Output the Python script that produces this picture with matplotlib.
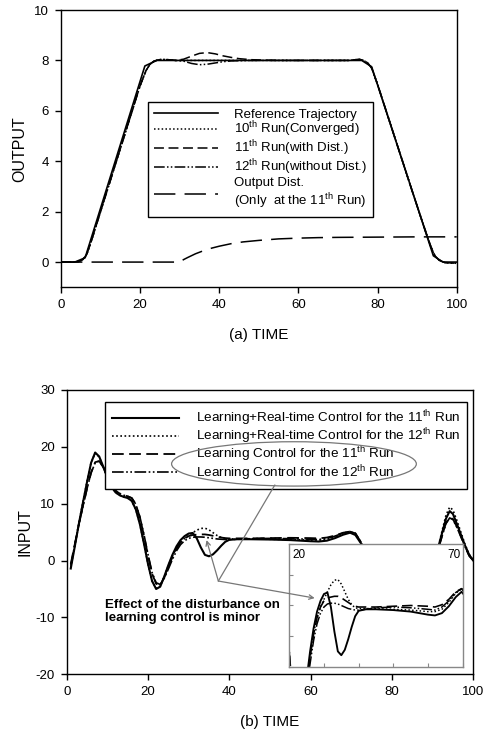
import numpy as np
import matplotlib
matplotlib.use('Agg')
from matplotlib import pyplot as plt
from matplotlib.patches import Ellipse, ConnectionPatch

plt.rcParams['font.family'] = 'Liberation Sans'
plt.rcParams['mathtext.fontset'] = 'custom'
plt.rcParams['mathtext.rm'] = 'Liberation Sans'
plt.rcParams['mathtext.it'] = 'Liberation Sans:italic'
plt.rcParams['axes.unicode_minus'] = False

# ---- (a) output data ----
ref_t = [0, 3.5, 6.1, 21.2, 24.2, 76, 78.5, 94.1, 96.5, 100]
ref_y = [0, 0, 0.17, 7.78, 8.0, 8.0, 7.75, 0.25, 0, 0]

t_out = [0, 3, 4.5, 5.5, 6.5, 7.5, 9, 12, 15, 18,
         20, 21.5, 22.5, 23.5, 24.5, 25.5, 27, 29, 31, 33,
         35, 37, 39, 41, 43, 45, 48, 52, 56, 60,
         65, 70, 73, 74.5, 75.5, 76.5, 77.5, 78.5, 80, 83,
         86, 89, 91, 92.5, 93.5, 94.5, 95.5, 97, 100]
y_run10 = [0, 0, 0.02, 0.1, 0.3, 0.75, 1.5, 3.0, 4.5, 6.0,
           7.0, 7.6, 7.85, 7.97, 8.02, 8.04, 8.03, 8.0, 8.0, 8.0,
           8.0, 8.0, 8.0, 8.0, 8.0, 8.0, 8.0, 8.0, 8.0, 8.0,
           8.0, 8.0, 8.0, 8.03, 8.04, 8.0, 7.9, 7.7, 7.05, 5.6,
           4.15, 2.7, 1.75, 1.05, 0.6, 0.25, 0.08, -0.02, -0.05]
y_run11 = [0, 0, 0.02, 0.1, 0.3, 0.75, 1.5, 3.0, 4.5, 6.0,
           7.0, 7.6, 7.85, 7.97, 8.02, 8.04, 8.03, 8.0, 8.05, 8.17,
           8.28, 8.31, 8.26, 8.18, 8.12, 8.07, 8.03, 8.01, 8.0, 8.0,
           8.0, 8.0, 8.0, 8.03, 8.04, 8.0, 7.9, 7.7, 7.05, 5.6,
           4.15, 2.7, 1.75, 1.05, 0.6, 0.25, 0.08, -0.02, -0.05]
y_run12 = [0, 0, 0.02, 0.1, 0.3, 0.75, 1.5, 3.0, 4.5, 6.0,
           7.0, 7.6, 7.85, 7.97, 8.02, 8.04, 8.03, 8.0, 7.97, 7.88,
           7.83, 7.85, 7.9, 7.95, 7.98, 7.99, 8.0, 8.0, 8.0, 8.0,
           8.0, 8.0, 8.0, 8.03, 8.04, 8.0, 7.9, 7.7, 7.05, 5.6,
           4.15, 2.7, 1.75, 1.05, 0.6, 0.25, 0.08, -0.02, -0.05]

dist_t = [0, 30, 31, 32, 34, 36, 38, 40, 43, 46, 50, 55, 60, 65, 70, 80, 90, 100]
dist_y = [0, 0, 0.1, 0.18, 0.33, 0.45, 0.55, 0.63, 0.73, 0.8, 0.86, 0.92, 0.95,
          0.97, 0.98, 0.99, 1.0, 1.0]

# ---- (b) input data ----
t_in = [1, 2, 3, 4, 5, 6, 7, 8, 9, 10,
        11, 12, 13, 14, 15, 16, 17, 18, 19, 20,
        21, 22, 23, 24, 25, 26, 27, 28, 29, 30,
        31, 32, 33, 34, 35, 36, 37, 38, 39, 40,
        42, 45, 50, 55, 60, 62, 64, 66, 68, 69.7,
        71, 72.5, 74, 76, 78, 80, 82, 84, 86, 88,
        90, 91.6, 92.5, 93.3, 94.2, 95, 96, 97, 98, 99,
        100]
u_lr11 = [-1.4, 2.5, 6.5, 10.2, 13.8, 17.2, 19.0, 18.3, 16.5, 14.6,
          13.0, 12.0, 11.5, 11.2, 11.0, 10.5, 9.0, 6.4, 3.0, -0.6,
          -3.6, -5.0, -4.6, -2.8, -0.8, 1.0, 2.5, 3.6, 4.3, 4.75,
          4.85, 3.9, 2.3, 1.0, 0.75, 1.1, 1.8, 2.6, 3.3, 3.65,
          3.75, 3.75, 3.7, 3.6, 3.4, 3.35, 3.5, 3.95, 4.55, 4.9,
          4.5, 2.9, -1.5, -8.0, -14.0, -17.0, -15.5, -11.5, -7.5, -4.0,
          -0.5, 2.9, 5.3, 7.4, 8.7, 8.2, 6.4, 4.5, 2.6, 1.0,
          0.0]
u_lr12 = [-1.2, 2.7, 6.6, 10.3, 13.9, 17.2, 18.9, 18.2, 16.5, 14.6,
          13.0, 12.0, 11.5, 11.2, 11.0, 10.5, 9.0, 6.4, 3.0, -0.6,
          -3.6, -4.9, -4.5, -2.8, -0.9, 0.8, 2.2, 3.2, 3.9, 4.4,
          4.9, 5.35, 5.65, 5.7, 5.4, 4.9, 4.4, 4.05, 3.85, 3.8,
          3.8, 3.8, 3.75, 3.7, 3.6, 3.6, 3.75, 4.2, 4.8, 5.1,
          4.7, 3.0, -1.2, -7.8, -13.8, -16.8, -15.4, -11.4, -7.4, -3.8,
          -0.2, 3.0, 5.7, 8.0, 9.4, 8.9, 7.0, 4.9, 2.8, 1.1,
          0.1]
u_l11 = [-0.6, 2.9, 6.4, 9.6, 12.7, 15.5, 17.3, 17.5, 16.4, 14.8,
         13.3, 12.3, 11.8, 11.5, 11.3, 11.0, 9.9, 7.6, 4.4, 0.9,
         -2.3, -4.1, -4.3, -3.0, -1.2, 0.6, 2.1, 3.2, 3.9, 4.3,
         4.5, 4.55, 4.6, 4.6, 4.5, 4.35, 4.2, 4.05, 3.95, 3.9,
         3.9, 3.9, 3.95, 4.0, 3.95, 3.9, 4.05, 4.4, 4.9, 5.1,
         4.8, 3.1, -1.0, -7.5, -13.0, -16.0, -14.5, -11.0, -7.5, -4.2,
         -1.0, 2.6, 4.8, 6.6, 7.6, 7.3, 5.9, 4.2, 2.5, 0.9,
         0.0]
u_l12 = [-0.9, 2.8, 6.3, 9.5, 12.6, 15.4, 17.2, 17.5, 16.4, 14.8,
         13.3, 12.3, 11.8, 11.5, 11.3, 11.0, 9.9, 7.7, 4.6, 1.1,
         -2.1, -3.9, -4.2, -3.1, -1.5, 0.2, 1.7, 2.8, 3.5, 3.9,
         4.1, 4.15, 4.15, 4.1, 4.0, 3.9, 3.8, 3.75, 3.7, 3.7,
         3.75, 3.85, 3.9, 3.85, 3.75, 3.7, 3.9, 4.3, 4.85, 5.1,
         4.8, 3.1, -1.0, -7.5, -13.0, -16.0, -14.5, -11.0, -7.5, -4.2,
         -1.0, 2.5, 4.7, 6.5, 7.5, 7.2, 5.8, 4.1, 2.4, 0.8,
         0.0]

labels_a = ['Reference Trajectory',
            r'10$^{\rm th}$ Run(Converged)',
            r'11$^{\rm th}$ Run(with Dist.)',
            r'12$^{\rm th}$ Run(without Dist.)',
            'Output Dist.\n' + r'(Only  at the 11$^{\rm th}$ Run)']
labels_b = [r'Learning+Real-time Control for the 11$^{\rm th}$ Run',
            r'Learning+Real-time Control for the 12$^{\rm th}$ Run',
            r'Learning Control for the 11$^{\rm th}$ Run',
            r'Learning Control for the 12$^{\rm th}$ Run']
note_text = 'Effect of the disturbance on\nlearning control is minor'

LS_DOT = (0, (1, 1.5))
LS_DASH = (0, (6.5, 3))
LS_DDOT = (0, (7, 1.5, 1, 1.5, 1, 1.5))
LS_LONG = (0, (14, 6))


def style_axes(ax):
    ax.tick_params(direction='out', length=4.5, width=1, labelsize=9.5, pad=4,
                   top=False, right=False)
    for s in ax.spines.values():
        s.set_linewidth(1.0)


fig = plt.figure(figsize=(4.84, 7.31), dpi=100)

# ---------------- (a) ----------------
ax1 = fig.add_axes([0.126, 0.607, 0.8176, 0.3793])
ax1.plot(ref_t, ref_y, color='k', lw=1.2, label=labels_a[0])
ax1.plot(t_out, y_run10, color='k', lw=1.1, ls=LS_DOT, label=labels_a[1])
ax1.plot(t_out, y_run11, color='k', lw=1.1, ls=LS_DASH, label=labels_a[2])
ax1.plot(t_out, y_run12, color='k', lw=1.1, ls=LS_DDOT, label=labels_a[3])
ax1.plot(dist_t, dist_y, color='k', lw=1.1, ls=LS_LONG, label=labels_a[4])
ax1.set_xlim(0, 100)
ax1.set_ylim(-1, 10)
ax1.set_xticks(np.arange(0, 101, 20))
ax1.set_yticks(np.arange(0, 11, 2))
style_axes(ax1)
ax1.set_xlabel('(a) TIME', fontsize=11, labelpad=12)
ax1.set_ylabel('OUTPUT', fontsize=11.5, labelpad=5)
leg1 = ax1.legend(loc='upper left', bbox_to_anchor=(0.219, 0.667), borderaxespad=0,
                  fontsize=9.5, handlelength=4.9, handletextpad=1.2, labelspacing=-0.05,
                  borderpad=0.45, fancybox=False, framealpha=1, edgecolor='k')
leg1.get_frame().set_linewidth(1.0)

# ---------------- (b) ----------------
ax2 = fig.add_axes([0.1378, 0.0776, 0.840, 0.3889])
series_b = [u_lr11, u_lr12, u_l11, u_l12]
styles_b = [('-', 1.5), (LS_DOT, 1.2), (LS_DASH, 1.3), (LS_DDOT, 1.2)]
for u, (ls, lw), lab in zip(series_b, styles_b, labels_b):
    ax2.plot(t_in, u, color='k', ls=ls, lw=lw, label=lab)
ax2.set_xlim(0, 100)
ax2.set_ylim(-20, 30)
ax2.set_xticks(np.arange(0, 101, 20))
ax2.set_yticks(np.arange(-20, 31, 10))
style_axes(ax2)
ax2.set_xlabel('(b) TIME', fontsize=11, labelpad=12)
ax2.set_ylabel('INPUT', fontsize=11.5, labelpad=2)
leg2 = ax2.legend(loc='upper left', bbox_to_anchor=(0.094, 0.959), borderaxespad=0,
                  fontsize=9.7, handlelength=5.0, handletextpad=1.25, labelspacing=-0.1,
                  borderpad=0.5, fancybox=False, framealpha=1, edgecolor='k')
leg2.get_frame().set_linewidth(1.0)

ell = Ellipse((55.9, 17.0), 60.2, 7.8, fill=False, edgecolor='#777777', lw=0.9, zorder=6)
ax2.add_patch(ell)
ax2.text(9.4, -9.0, note_text, fontsize=9.5, fontweight='bold', ha='left', va='center',
         linespacing=1.1)

# inset zoom 20..70
axi = fig.add_axes([0.5977, 0.088, 0.3583, 0.1674])
for u, (ls, lw) in zip(series_b, styles_b):
    axi.plot(t_in, u, color='k', ls=ls, lw=lw * 0.9)
axi.set_xlim(20, 70)
axi.set_ylim(0, 8)
axi.set_xticks(np.arange(20, 71, 10))
axi.set_yticks(np.arange(0, 9, 2))
axi.tick_params(direction='in', length=3, colors='#888888', labelbottom=False,
                labelleft=False)
for s in axi.spines.values():
    s.set_color('#888888')
    s.set_linewidth(1.0)
axi.text(0.02, 0.91, '20', transform=axi.transAxes, fontsize=8.5, ha='left', va='center')
axi.text(0.99, 0.91, '70', transform=axi.transAxes, fontsize=8.5, ha='right', va='center')

# pointer lines from the note
src = (37.3, -3.6)
for dst, arrow in [((51.2, 13.3), '-'), ((34.4, 3.6), '->'), ((61.0, -6.6), '->')]:
    cp = ConnectionPatch(xyA=src, xyB=dst, coordsA=ax2.transData, coordsB=ax2.transData,
                         arrowstyle=arrow, color='#777777', lw=0.9, mutation_scale=8)
    cp.set_zorder(5)
    fig.add_artist(cp)

fig.savefig('out.png', dpi=100)
